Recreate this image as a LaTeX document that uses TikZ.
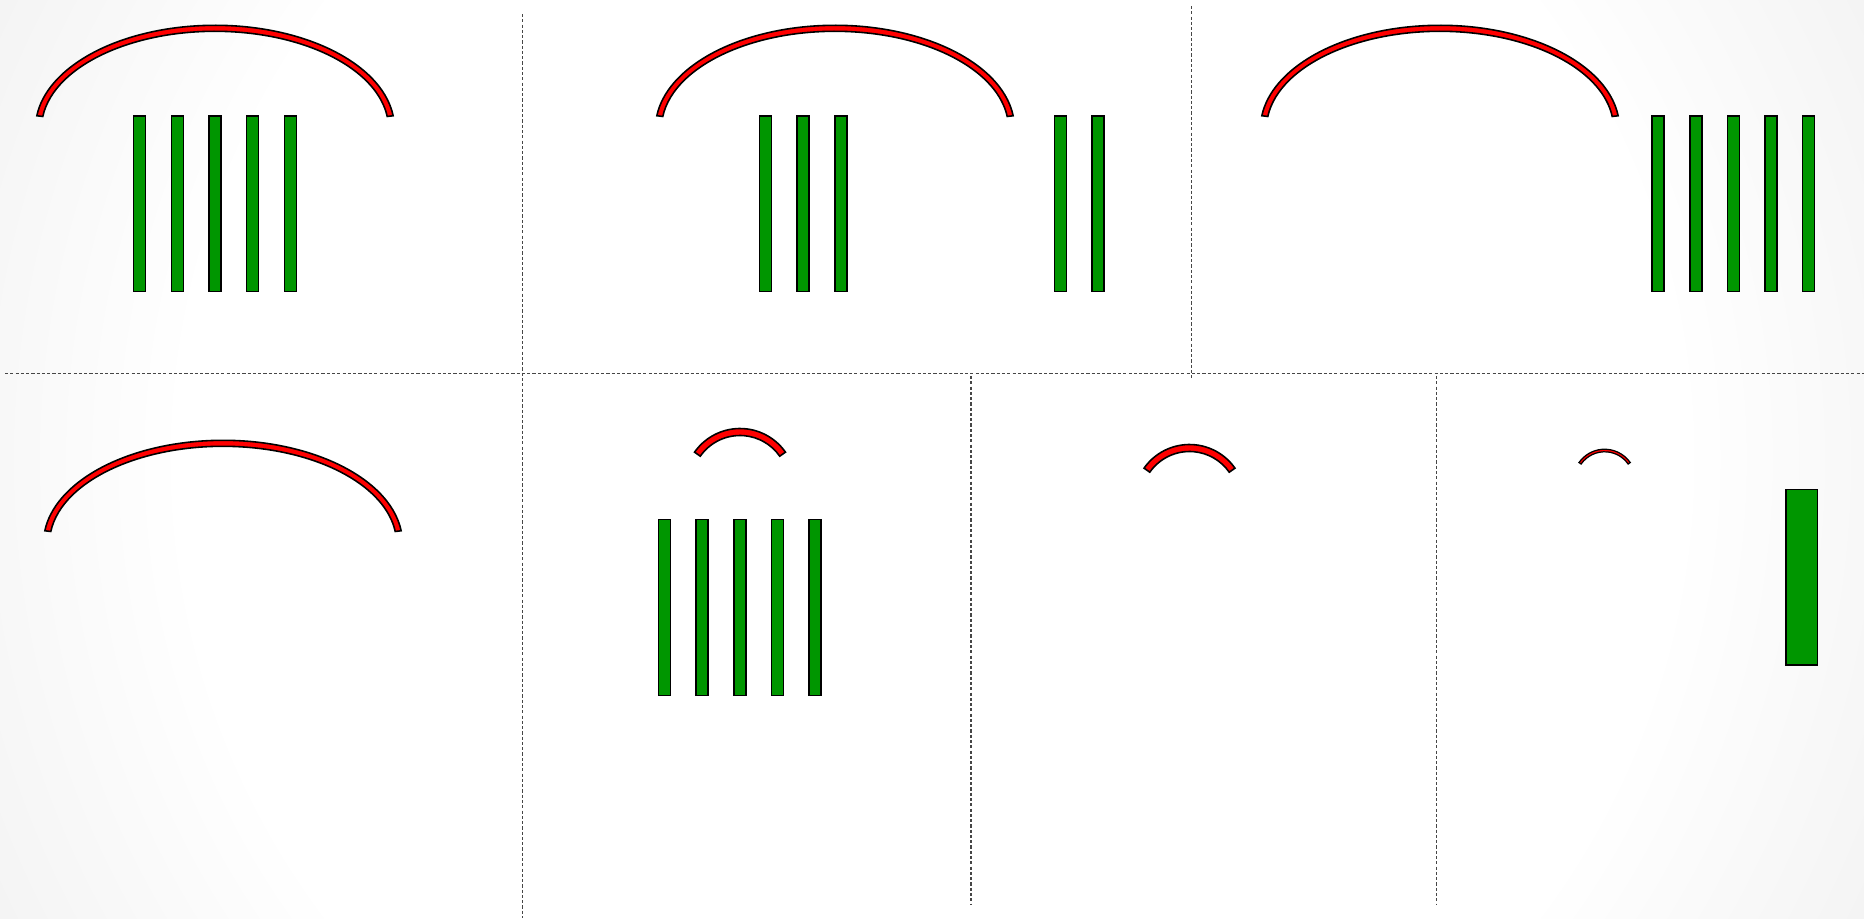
\documentclass[tikz,border=0pt]{standalone}
\usepackage{tikz}

\definecolor{bandRed}{RGB}{255,0,0}
\definecolor{barGreen}{RGB}{0,150,0}
\definecolor{dotGray}{RGB}{70,70,70}
\pgfdeclareradialshading{slideGlow}{\pgfpointorigin}{color(0bp)=(white); color(18bp)=(white); color(50bp)=(black!20)}

\begin{document}
\begin{tikzpicture}[
  x=0.01cm, y=0.01cm,
  band/.style={draw=black, fill=bandRed, line width=0.45pt},
  bar/.style={draw=black, fill=barGreen, line width=0.45pt},
  divider/.style={draw=dotGray, line width=0.3pt, dash pattern=on 0.9pt off 0.6pt}
]
  \useasboundingbox (0,0) rectangle (1864,-918);

  % background
  \begin{scope}
    \clip (0,0) rectangle (1864,-918);
    \shade[shading=slideGlow] (-108,-1499) rectangle (1972,581);
  \end{scope}

  % panel borders
  \draw[divider] (5,-373.3) -- (1864,-373.3);
  \draw[divider] (522.7,-14) -- (522.7,-918);
  \draw[divider] (1191.7,-6) -- (1191.7,-379);
  \draw[divider] (971,-376) -- (971,-905);
  \draw[divider] (1436.7,-376) -- (1436.7,-905);

  % wide arcs
  \foreach \cx/\cy in {215/-128.3, 835/-128.3, 1440/-128.3, 223/-543.3}
    \filldraw[band, shift={(\cx,\cy)}]
      (7:179.5 and 103) arc[start angle=7, end angle=173, x radius=179.5, y radius=103]
      -- (173:173.5 and 97) arc[start angle=173, end angle=7, x radius=173.5, y radius=97] -- cycle;

  % small arcs
  \foreach \cx/\cy/\r/\w/\lw in {740/-484/52/3.5/0.45, 1189.5/-500/52/3.5/0.45, 1604.6/-480.5/30/1.3/0.35} {
    \pgfmathsetmacro\ro{\r+\w}
    \pgfmathsetmacro\ri{\r-\w}
    \filldraw[band, line width=\lw pt, shift={(\cx,\cy)}]
      (35:\ro) arc[start angle=35, end angle=145, radius=\ro]
      -- (145:\ri) arc[start angle=145, end angle=35, radius=\ri] -- cycle;
  }

  % bars
  \foreach \bx in {139.7,177.3,215,252.7,290.3, 765.5,803.2,840.8,1060.5,1098.2, 1658.2,1695.8,1733.3,1770.8,1808.3}
    \draw[bar] (\bx-6,-116) rectangle (\bx+6,-291.6);
  \foreach \bx in {664.5,702.2,739.8,777.4,815}
    \draw[bar] (\bx-6,-519.7) rectangle (\bx+6,-695.3);
  \draw[bar] (1785.7,-489.7) rectangle (1817.3,-665);
\end{tikzpicture}
\end{document}
